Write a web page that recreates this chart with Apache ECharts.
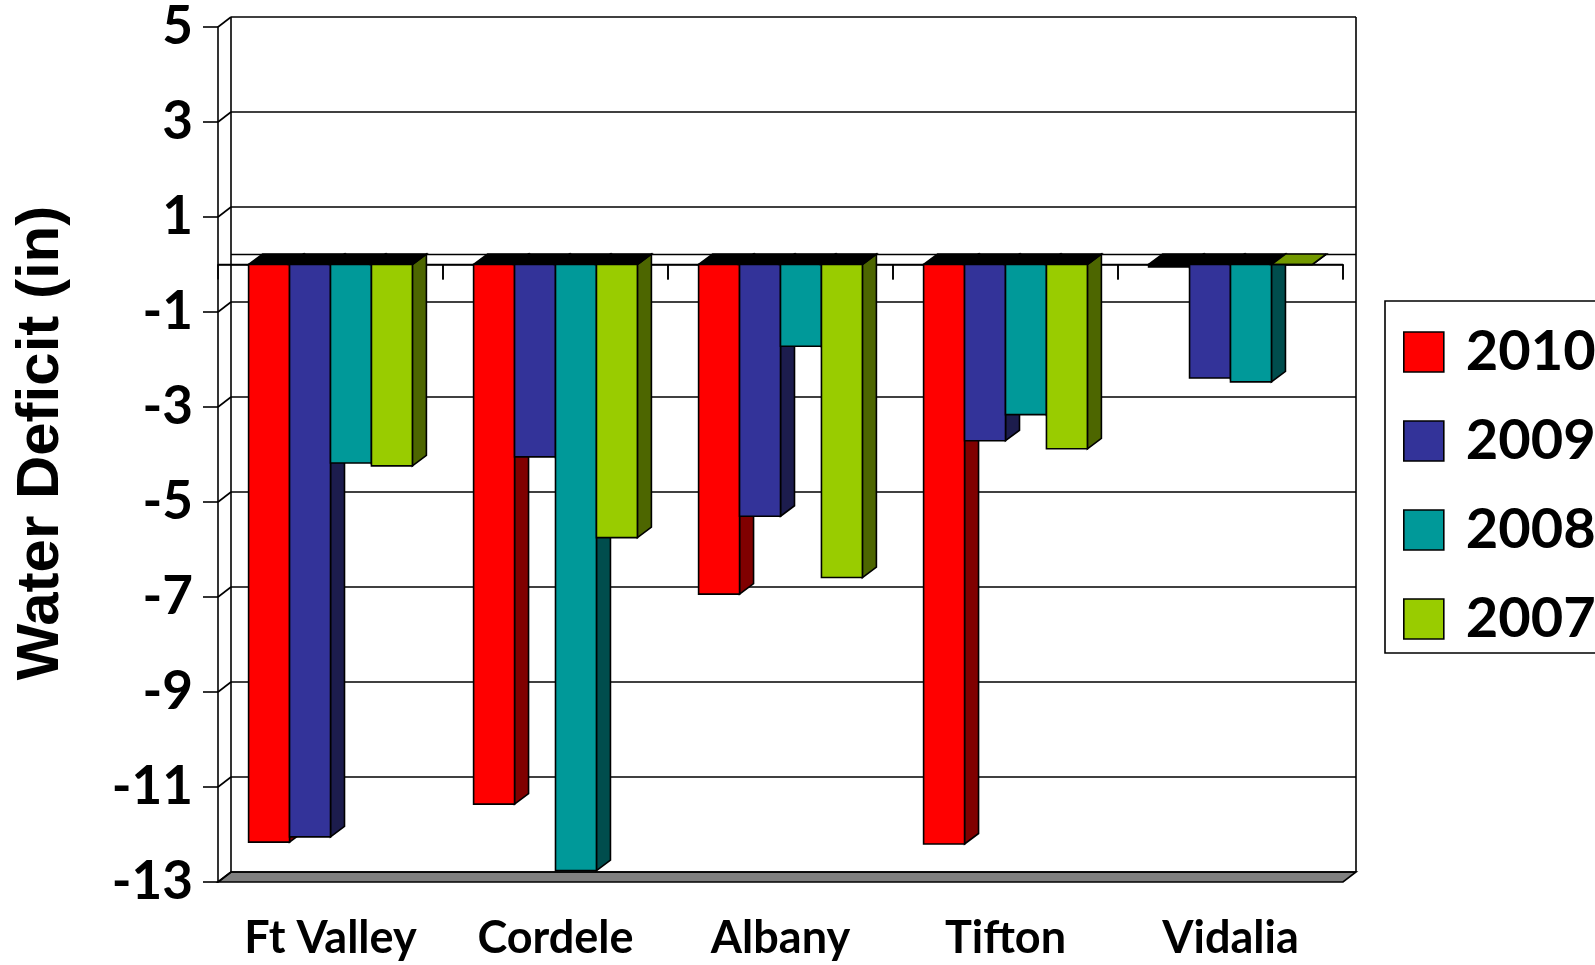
<!DOCTYPE html>
<html>
<head>
<meta charset="utf-8">
<title>Water Deficit</title>
<script src="https://cdn.jsdelivr.net/npm/echarts@6/dist/echarts.min.js"></script>
<style>
  html, body { margin: 0; padding: 0; background: #fff; }
  #chart { width: 1595px; height: 965px; }
</style>
</head>
<body>
<div id="chart"></div>
<script>
// Sites along the x axis
const categories = ['Ft Valley', 'Cordele', 'Albany', 'Tifton', 'Vidalia'];

// Water deficit (inches) per site, one array per year
const deficit2010 = [-12.16, -11.36, -6.94, -12.2, -0.05];
const deficit2009 = [-12.05, -4.05, -5.30, -3.71, -2.39];
const deficit2008 = [-4.18, -12.76, -1.72, -3.16, -2.47];
const deficit2007 = [-4.24, -5.75, -6.59, -3.88, 0];

// Value axis ticks
const yTicks = [-13, -11, -9, -7, -5, -3, -1, 1, 3, 5];
const yMin = -13, yMax = 5, yStep = 2;

const years = ['2010', '2009', '2008', '2007'];
const yearValues = [deficit2010, deficit2009, deficit2008, deficit2007];

// Face colours: front, side (shaded), top (lit) for each year
const frontColors = ['#FF0000', '#333399', '#009999', '#99CC00'];
const sideColors  = ['#800000', '#1C1C4D', '#004D4D', '#4D6600'];
const topColors   = ['#B30000', '#24246B', '#006B6B', '#739900'];

// Pseudo-3D depth offsets
const WALL_DX = 13, WALL_DY = -10;
const BAR_DX = 14, BAR_DY = -10.5;
const STROKE = 1.6;
const FONT = 'Lato, "Open Sans", sans-serif';

function seg(x1, y1, x2, y2) {
  return { type: 'line', shape: { x1, y1, x2, y2 }, style: { stroke: '#000', lineWidth: STROKE } };
}

// Back wall, side wall, floor and zero plane of the 3D box
function renderFrame(params, api) {
  const cs = params.coordSys;
  const L = cs.x, R = cs.x + cs.width;
  const yAt = v => api.coord([0, v])[1];
  const band = api.size([1, 0])[0];
  const kids = [];
  const yF = yAt(yMin);
  kids.push({
    type: 'polygon',
    shape: { points: [[L, yF], [L + WALL_DX, yF + WALL_DY], [R + WALL_DX, yF + WALL_DY], [R, yF]] },
    style: { fill: '#808080', stroke: '#000', lineWidth: STROKE }
  });
  yTicks.forEach(v => {
    const y = yAt(v);
    kids.push(seg(L + WALL_DX, y + WALL_DY, R + WALL_DX, y + WALL_DY));
    kids.push(seg(L, y, L + WALL_DX, y + WALL_DY));
  });
  const y0 = yAt(0);
  kids.push(seg(L + WALL_DX, y0 + WALL_DY, R + WALL_DX, y0 + WALL_DY));
  kids.push(seg(L, y0, R, y0));
  for (let i = 1; i <= categories.length; i++) {
    kids.push(seg(L + i * band, y0, L + i * band, y0 + 15));
  }
  const yTop = yAt(yMax) + WALL_DY, yBot = yF + WALL_DY;
  kids.push(seg(L + WALL_DX, yTop, L + WALL_DX, yBot));
  kids.push(seg(R + WALL_DX, yTop, R + WALL_DX, yBot));
  return { type: 'group', children: kids };
}

// One 3D column: front face, right side face and the end face at the zero plane
function makeBarRenderer(k) {
  return function (params, api) {
    const idx = api.value(0);
    const val = api.value(1);
    const c = api.coord([idx, 0]);
    const band = api.size([1, 0])[0];
    const w = band * 0.182;
    const left = c[0] - 2 * w + k * w;
    const y0 = c[1];
    const y1 = api.coord([idx, val])[1];
    const top = Math.min(y0, y1), bot = Math.max(y0, y1);
    const right = left + w;
    const st = { stroke: '#000', lineWidth: STROKE, lineJoin: 'miter' };
    return {
      type: 'group',
      children: [
        {
          type: 'polygon',
          shape: { points: [[right, bot], [right + BAR_DX, bot + BAR_DY], [right + BAR_DX, top + BAR_DY], [right, top]] },
          style: Object.assign({ fill: sideColors[k] }, st)
        },
        {
          type: 'polygon',
          shape: { points: [[left, top], [left + BAR_DX, top + BAR_DY], [right + BAR_DX, top + BAR_DY], [right, top]] },
          style: Object.assign({ fill: val < 0 ? '#000' : topColors[k] }, st)
        },
        {
          type: 'rect',
          shape: { x: left, y: top, width: w, height: bot - top },
          style: Object.assign({ fill: val < 0 && bot - top < 4 ? '#000' : frontColors[k] }, st)
        }
      ]
    };
  };
}

const barSeries = years.map((name, k) => ({
  name,
  type: 'custom',
  renderItem: makeBarRenderer(k),
  itemStyle: { color: frontColors[k] },
  encode: { x: 0, y: 1 },
  data: categories.map((_, i) => [i, yearValues[k][i]]),
  z: 3
}));

const chart = echarts.init(document.getElementById('chart'), null, { renderer: 'canvas' });
chart.setOption({
  animation: false,
  backgroundColor: '#fff',
  color: frontColors,
  grid: { left: 218, top: 27, width: 1125, height: 855 },
  xAxis: {
    type: 'category',
    data: categories,
    boundaryGap: true,
    axisLine: { show: true, lineStyle: { color: '#000', width: STROKE } },
    axisTick: { show: true, length: 15, alignWithLabel: false, lineStyle: { color: '#000', width: STROKE } },
    axisLabel: { color: '#000', fontFamily: FONT, fontWeight: 'bold', fontSize: 45, margin: 34 },
    splitLine: { show: false }
  },
  yAxis: {
    type: 'value',
    min: yMin, max: yMax, interval: yStep,
    axisLine: { show: true, lineStyle: { color: '#000', width: STROKE } },
    axisTick: { show: true, length: 15, lineStyle: { color: '#000', width: STROKE } },
    axisLabel: { color: '#000', fontFamily: FONT, fontWeight: 'bold', fontSize: 53, margin: 25 },
    splitLine: { show: false }
  },
  legend: {
    data: years,
    orient: 'vertical',
    left: 1385,
    top: 301,
    padding: [23, 40, 6, 18],
    itemWidth: 40,
    itemHeight: 40,
    itemGap: 33,
    icon: 'rect',
    backgroundColor: '#fff',
    borderColor: '#000',
    borderWidth: STROKE,
    itemStyle: { borderColor: '#000', borderWidth: STROKE },
    textStyle: { color: '#000', fontFamily: FONT, fontWeight: 'bold', fontSize: 56, padding: [0, 0, 0, 17] }
  },
  graphic: [{
    type: 'text',
    x: 41,
    y: 443,
    rotation: Math.PI / 2,
    style: {
      text: 'Water Deficit (in)',
      font: 'bold 60px "Liberation Sans", Arial, sans-serif',
      fill: '#000',
      textAlign: 'center',
      textVerticalAlign: 'middle'
    }
  }],
  series: [{
    name: 'frame',
    type: 'custom',
    renderItem: renderFrame,
    data: [[0, 0]],
    encode: { x: 0, y: 1 },
    silent: true,
    z: 1
  }].concat(barSeries)
});
</script>
</body>
</html>
